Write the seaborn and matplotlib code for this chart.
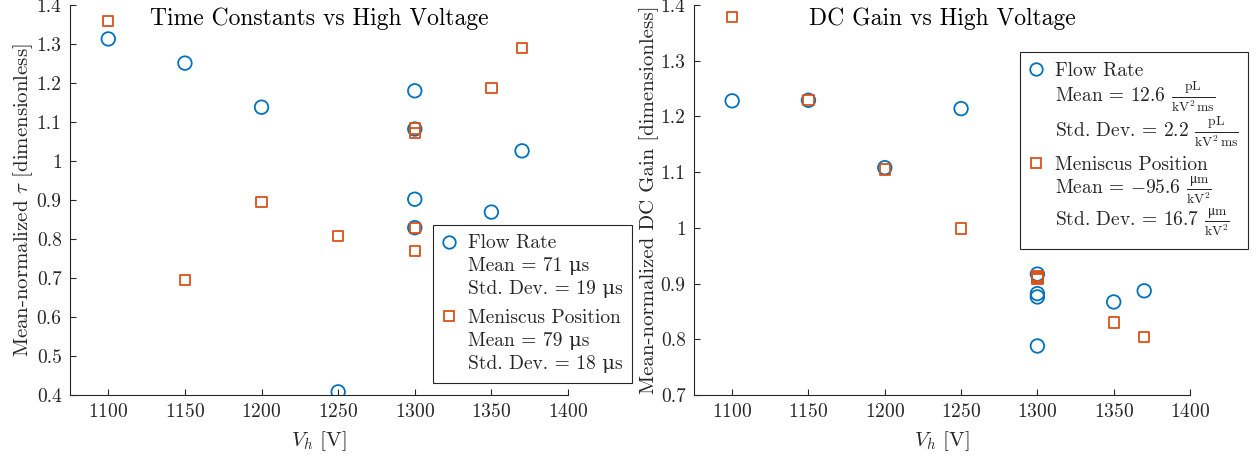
import numpy as np
import pandas as pd
import matplotlib
matplotlib.use("Agg")
import matplotlib.pyplot as plt
import seaborn as sns
from matplotlib.lines import Line2D
from matplotlib.offsetbox import DrawingArea
from matplotlib.ticker import FuncFormatter, MultipleLocator

# ---- data ----
tau_flow_v = [1100, 1150, 1200, 1300, 1300, 1300, 1300, 1250, 1350, 1370]
tau_flow = [1.313, 1.251, 1.138, 1.180, 1.082, 0.902, 0.829, 0.408, 0.869, 1.026]
tau_men_v = [1100, 1150, 1200, 1250, 1300, 1300, 1300, 1300, 1350, 1370]
tau_men = [1.359, 0.695, 0.895, 0.808, 1.083, 1.071, 0.828, 0.769, 1.187, 1.290]

gain_flow_v = [1100, 1150, 1200, 1250, 1300, 1300, 1300, 1300, 1350, 1370]
gain_flow = [1.228, 1.229, 1.108, 1.214, 0.917, 0.882, 0.876, 0.788, 0.867, 0.887]
gain_men_v = [1100, 1150, 1200, 1250, 1300, 1300, 1300, 1300, 1350, 1370]
gain_men = [1.378, 1.229, 1.105, 0.999, 0.914, 0.912, 0.910, 0.908, 0.830, 0.804]

MU = "\u03bc"
tau_legend = ["Flow Rate", f"Mean = 71 {MU}s", f"Std. Dev. = 19 {MU}s",
              "Meniscus Position", f"Mean = 79 {MU}s", f"Std. Dev. = 18 {MU}s"]
gain_legend = ["Flow Rate",
               r"Mean = 12.6 $\frac{\mathrm{pL}}{\mathrm{kV}^2\,\mathrm{ms}}$",
               r"Std. Dev. = 2.2 $\frac{\mathrm{pL}}{\mathrm{kV}^2\,\mathrm{ms}}$",
               "Meniscus Position",
               r"Mean = $-$95.6 $\frac{\mathrm{" + MU + r"m}}{\mathrm{kV}^2}$",
               r"Std. Dev. = 16.7 $\frac{\mathrm{" + MU + r"m}}{\mathrm{kV}^2}$"]

BLUE = "#0072BD"
ORANGE = "#D95319"
DARK = "#262626"

sns.set_style("ticks")
plt.rcParams["font.family"] = ["cmr10", "DejaVu Serif"]
plt.rcParams["mathtext.fontset"] = "cm"
plt.rcParams["axes.formatter.use_mathtext"] = True
plt.rcParams["xtick.direction"] = "in"
plt.rcParams["ytick.direction"] = "in"
plt.rcParams["axes.edgecolor"] = DARK
plt.rcParams["xtick.color"] = DARK
plt.rcParams["ytick.color"] = DARK
plt.rcParams["axes.labelcolor"] = DARK

fig = plt.figure(figsize=(12.58, 4.61), dpi=100)
ax1 = fig.add_axes([70 / 1258, 66 / 461, 498 / 1258, 390 / 461])
ax2 = fig.add_axes([694 / 1258, 66 / 461, 496 / 1258, 390 / 461])

fmt = FuncFormatter(lambda v, p: f"{v:g}")


def draw(ax, fv, fy, mv, my, ylim, title, ylabel, labels, anchor, loc,
         lspace, gap):
    sns.scatterplot(x=fv, y=fy, ax=ax, marker="o", s=95, facecolor="none",
                    edgecolor=BLUE, linewidth=1.3, zorder=3)
    sns.scatterplot(x=mv, y=my, ax=ax, marker="s", s=55, facecolor="none",
                    edgecolor=ORANGE, linewidth=1.3, zorder=3)
    ax.set_xlim(1075, 1400)
    ax.set_ylim(*ylim)
    ax.xaxis.set_major_locator(MultipleLocator(50))
    ax.yaxis.set_major_locator(MultipleLocator(0.1))
    ax.yaxis.set_major_formatter(fmt)
    ax.tick_params(labelsize=14, length=4, width=0.8, pad=6)
    for s in ["top", "right"]:
        ax.spines[s].set_visible(False)
    ax.set_xlabel(r"$V_h$ [V]", fontsize=15, labelpad=6)
    ax.set_ylabel(ylabel, fontsize=15, labelpad=1)
    ax.text(0.5, 0.993, title, transform=ax.transAxes, ha="center", va="top",
            fontsize=17, color="black")
    blank = Line2D([], [], linestyle="none", marker="none")
    hc = Line2D([], [], linestyle="none", marker="o", markersize=9,
                markerfacecolor="none", markeredgecolor=BLUE, markeredgewidth=1.3)
    hs = Line2D([], [], linestyle="none", marker="s", markersize=7,
                markerfacecolor="none", markeredgecolor=ORANGE, markeredgewidth=1.3)
    handles = [hc, blank, blank, hs, blank, blank]
    leg = ax.legend(handles, labels, loc=loc, bbox_to_anchor=anchor,
                    bbox_transform=fig.transFigure, fontsize=14,
                    frameon=True, fancybox=False, framealpha=1,
                    edgecolor=DARK, handlelength=0.65, handletextpad=0.65,
                    labelspacing=lspace, borderpad=0.5, borderaxespad=0)
    leg.get_frame().set_linewidth(0.8)
    # extra gap between the two groups of entries
    try:
        col = leg._legend_handle_box.get_children()[0]
        col._children.insert(3, DrawingArea(1, gap))
    except Exception:
        pass


draw(ax1, tau_flow_v, tau_flow, tau_men_v, tau_men, (0.4, 1.4),
     "Time Constants vs High Voltage",
     r"Mean-normalized $\tau$ [dimensionless]", tau_legend,
     (433 / 1258, 78 / 461), "lower left", 0.26, 0.5)
draw(ax2, gain_flow_v, gain_flow, gain_men_v, gain_men, (0.7, 1.4),
     "DC Gain vs High Voltage",
     "Mean-normalized DC Gain [dimensionless]", gain_legend,
     (1020 / 1258, 409 / 461), "upper left", 0.0, 5)

fig.savefig("out.png", dpi=100)
